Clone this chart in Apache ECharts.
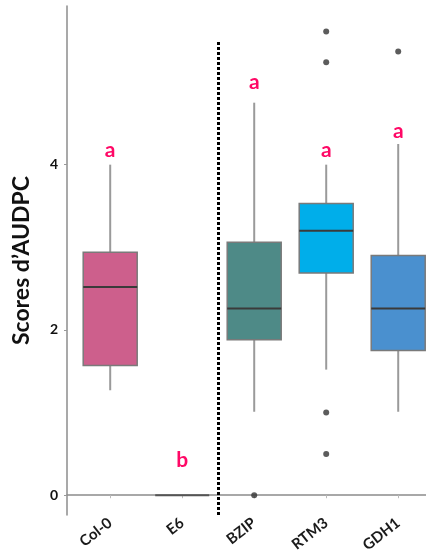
<!DOCTYPE html>
<html>
<head>
<meta charset="utf-8">
<script src="https://cdn.jsdelivr.net/npm/echarts@6/dist/echarts.min.js"></script>
<style>html,body{margin:0;padding:0;background:#fff}#c{width:426px;height:555px}</style>
</head>
<body>
<div id="c"></div>
<script>
var categories = ['Col-0', 'E6', 'BZIP', 'RTM3', 'GDH1'];
var whiskerLow = [1.27, 0, 1.01, 1.52, 1.01];
var q1 = [1.57, 0, 1.88, 2.69, 1.75];
var median = [2.52, 0, 2.26, 3.20, 2.26];
var q3 = [2.94, 0, 3.06, 3.53, 2.90];
var whiskerHigh = [4.00, 0, 4.75, 4.00, 4.25];
var boxColors = ['#CD5F8C', '#4E8A87', '#4E8A87', '#00AEEA', '#4A90CF'];
var outlierCat = ['BZIP', 'RTM3', 'RTM3', 'RTM3', 'RTM3', 'GDH1'];
var outlierVal = [0, 0.5, 1.0, 5.24, 5.61, 5.37];
var letters = ['a', 'b', 'a', 'a', 'a'];
var letterVal = [4.17, 0.42, 5.0, 4.17, 4.41];
var yTicks = [0, 2, 4];

var fontFam = 'Lato, "Open Sans", sans-serif';

var boxData = categories.map(function (c, i) {
  return [i + 1, whiskerLow[i], q1[i], median[i], q3[i], whiskerHigh[i], i];
});
var outData = outlierCat.map(function (c, i) {
  return [categories.indexOf(c) + 1, outlierVal[i]];
});
var letterData = categories.map(function (c, i) {
  return [i + 1, letterVal[i], letters[i]];
});

var chart = echarts.init(document.getElementById('c'), null, {renderer: 'canvas'});
chart.setOption({
  animation: false,
  backgroundColor: '#fff',
  grid: {left: 67, right: 0, top: 6, bottom: 38, containLabel: false},
  xAxis: {
    type: 'value', min: 0.4, max: 5.386,
    splitLine: {show: false},
    axisLine: {show: true, lineStyle: {color: '#8c8c8c', width: 1.5}},
    axisTick: {show: true, length: 3, customValues: [1, 2, 3, 4, 5], lineStyle: {color: '#bbb'}},
    axisLabel: {
      customValues: [1, 2, 3, 4, 5],
      formatter: function (v) { return categories[Math.round(v) - 1] || ''; },
      rotate: 38, margin: 6,
      fontFamily: fontFam, fontWeight: 'bold', fontSize: 15, color: '#1a1a1a'
    }
  },
  yAxis: {
    type: 'value', min: -0.24, max: 5.92,
    splitLine: {show: false},
    axisLine: {show: true, lineStyle: {color: '#8c8c8c', width: 1.5}},
    axisTick: {show: true, length: 3, customValues: yTicks, lineStyle: {color: '#999'}},
    axisLabel: {
      customValues: yTicks, margin: 9,
      fontFamily: fontFam, fontWeight: 'bold', fontSize: 14, color: '#111'
    },
    name: 'Scores d\u2019AUDPC', nameLocation: 'middle', nameGap: 34,
    nameTextStyle: {fontFamily: fontFam, fontWeight: 'bold', fontSize: 23, color: '#111'}
  },
  series: [
    {
      type: 'custom',
      data: boxData,
      encode: {x: 0, y: [1, 2, 3, 4, 5]},
      renderItem: function (params, api) {
        var x = api.value(0);
        var lo = api.coord([x, api.value(1)]);
        var b1 = api.coord([x, api.value(2)]);
        var md = api.coord([x, api.value(3)]);
        var b3 = api.coord([x, api.value(4)]);
        var hi = api.coord([x, api.value(5)]);
        var half = api.size([0.75, 0])[0] / 2;
        var idx = api.value(6);
        var cx = lo[0];
        var children = [];
        if (api.value(5) > api.value(1)) {
          children.push({type: 'line', shape: {x1: cx, y1: hi[1], x2: cx, y2: b3[1]}, style: {stroke: '#9a9a9a', lineWidth: 2}});
          children.push({type: 'line', shape: {x1: cx, y1: b1[1], x2: cx, y2: lo[1]}, style: {stroke: '#9a9a9a', lineWidth: 2}});
          children.push({type: 'rect', shape: {x: cx - half, y: b3[1], width: half * 2, height: b1[1] - b3[1]},
            style: {fill: boxColors[idx], stroke: '#7a7a7a', lineWidth: 1.5}});
          children.push({type: 'line', shape: {x1: cx - half, y1: md[1], x2: cx + half, y2: md[1]}, style: {stroke: '#3a3a3a', lineWidth: 2}});
        } else {
          children.push({type: 'line', shape: {x1: cx - half, y1: md[1], x2: cx + half, y2: md[1]}, style: {stroke: '#555', lineWidth: 2}});
        }
        return {type: 'group', children: children};
      },
      markLine: {
        silent: true, symbol: 'none', label: {show: false},
        lineStyle: {type: [3, 2], width: 3, color: '#000'},
        data: [[{coord: [2.5, -0.24]}, {coord: [2.5, 5.5]}]]
      },
      z: 2
    },
    {
      type: 'scatter',
      data: outData,
      symbol: 'circle', symbolSize: 6,
      itemStyle: {color: '#333'},
      z: 3
    },
    {
      type: 'custom',
      data: letterData,
      renderItem: function (params, api) {
        var p = api.coord([api.value(0), api.value(1)]);
        return {type: 'text', x: p[0], y: p[1],
          style: {text: letters[params.dataIndex], fill: '#FF0866', font: 'bold 21px ' + fontFam,
            align: 'center', verticalAlign: 'middle'}};
      },
      z: 4
    }
  ]
});
</script>
</body>
</html>
